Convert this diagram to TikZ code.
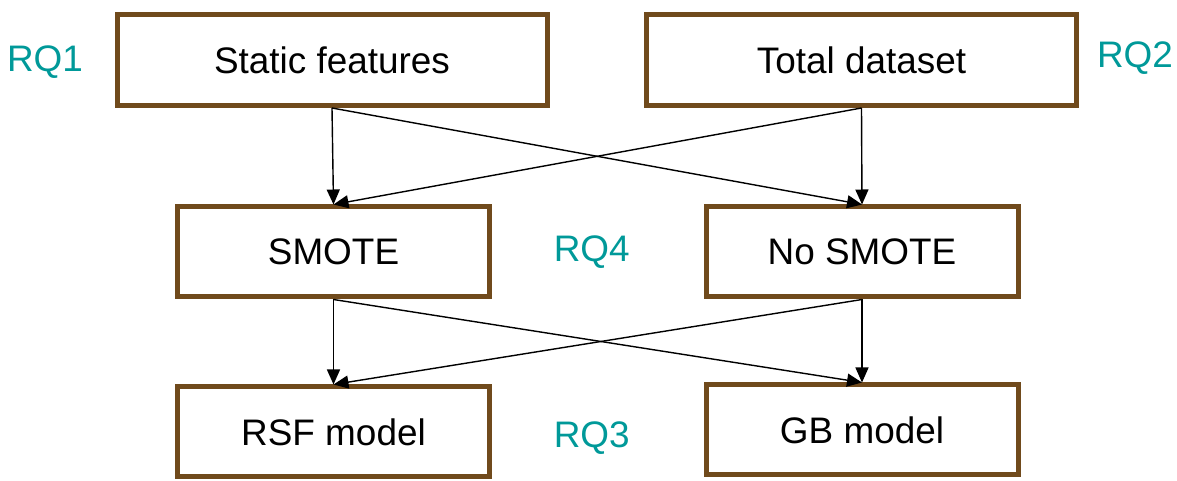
\documentclass[tikz,border=0pt]{standalone}
\usepackage{fontspec}
\setmainfont{Liberation Sans}
\usepackage{xcolor}
\usetikzlibrary{arrows.meta,calc}
\definecolor{boxBrown}{RGB}{112,74,28}
\definecolor{rqTeal}{RGB}{0,153,153}

\begin{document}
\begin{tikzpicture}[>={Triangle[length=0.3cm,width=0.26cm]}]
      \tikzstyle{every node} = [font=\fontsize{21}{25}\selectfont]
      \tikzstyle{bigbox} = [draw=boxBrown, line width=0.1cm, rectangle, fill=white, minimum height=1.82 cm, minimum width=8.6 cm]
      \tikzstyle{box} = [draw=boxBrown, line width=0.1cm, rectangle, fill=white, minimum height=1.8 cm, minimum width=6.24 cm]
      \tikzstyle{rq} = [text=rqTeal]
      \useasboundingbox (0,0) rectangle (23.54,-9.62);
      \node[bigbox] (static) at (6.64,-1.2) {Static features};
      \node[bigbox, right of=static, node distance=10.59 cm] (total) {Total dataset};
      \node[box] (smote) at (6.67,-5.04) {SMOTE};
      \node[box, right of=smote, node distance=10.57 cm] (nosmote) {No SMOTE};
      \node[box, below of=smote, node distance=3.6 cm] (rsf) {RSF model};
      \node[box, below of=nosmote, node distance=3.56 cm] (gb) {GB model};
      % Research questions
      \node[rq] (rq1) at (0.9,-1.24) {RQ1};
      \node[rq] (rq2) at (22.7,-1.16) {RQ2};
      \node[rq] (rq4) at ($(smote)!0.5!(nosmote)+(-0.12,0)$) {RQ4};
      \node[rq] (rq3) at ($(rsf)!0.5!(gb)+(-0.12,-0.14)$) {RQ3};
      % Connections
      \draw[->, thick]
      (static.south) -- (smote.north);
      \draw[->, thick]
      (static.south) -- (nosmote.north);
      \draw[->, thick]
      (total.south) -- (smote.north);
      \draw[->, thick]
      (total.south) -- (nosmote.north);
      \draw[->, thick]
      (smote.south) -- (rsf.north);
      \draw[->, thick]
      (smote.south) -- (gb.north);
      \draw[->, thick]
      (nosmote.south) -- (rsf.north);
      \draw[->, thick]
      (nosmote.south) -- (gb.north);
    \end{tikzpicture}
\end{document}
